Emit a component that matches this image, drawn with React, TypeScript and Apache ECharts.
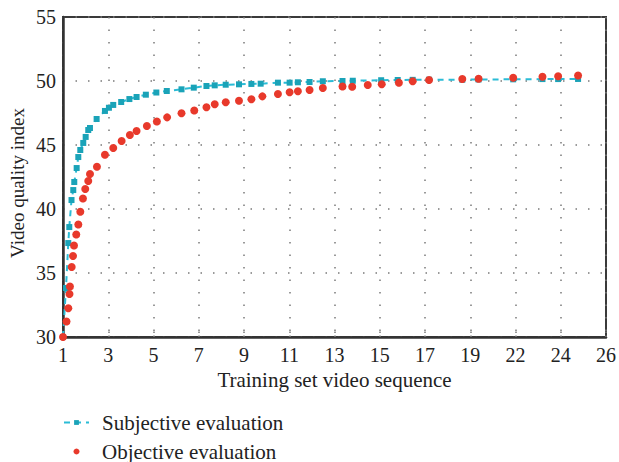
import React, { useEffect, useRef } from "react";
import * as echarts from "echarts";

// Tick labels of the x axis, one per equally spaced tick position (0..12)
const xTickLabels = ["1", "3", "5", "7", "9", "11", "13", "15", "17", "19", "22", "24", "26"];

// Subjective evaluation: x in tick-position units, y = quality index
const subjectiveX = [
  0, 0.066, 0.117, 0.139, 0.188, 0.227, 0.249, 0.302, 0.338, 0.382, 0.448, 0.501, 0.558, 0.596,
  0.743, 0.927, 1.015, 1.11, 1.286, 1.467, 1.626, 1.831, 2.063, 2.294, 2.619, 2.89, 3.17, 3.353,
  3.596, 3.889, 4.163, 4.368, 4.75, 5.008, 5.191, 5.449, 5.742, 6.177, 6.404, 7.031, 7.397,
  7.728, 8.09, 8.824, 9.184, 9.949, 10.596, 10.942, 11.383,
];
const subjectiveY = [
  30.0, 33.83, 37.34, 38.59, 40.7, 41.48, 42.11, 43.2, 44.06, 44.61, 45.16, 45.63, 46.17, 46.33,
  47.03, 47.66, 47.91, 48.13, 48.36, 48.59, 48.75, 48.93, 49.1, 49.22, 49.35, 49.48, 49.61, 49.66,
  49.71, 49.74, 49.77, 49.79, 49.87, 49.87, 49.9, 49.92, 49.98, 50.0, 50.02, 50.06, 50.08,
  50.09, 50.1, 50.1, 50.12, 50.13, 50.15, 50.15, 50.16,
];

// Objective evaluation
const objectiveX = [
  0, 0.077, 0.117, 0.143, 0.154, 0.192, 0.221, 0.243, 0.293, 0.338, 0.382, 0.441, 0.492, 0.558,
  0.596, 0.75, 0.927, 1.11, 1.295, 1.478, 1.626, 1.853, 2.074, 2.301, 2.619, 2.901, 3.17, 3.353,
  3.596, 3.889, 4.163, 4.406, 4.75, 5.008, 5.191, 5.449, 5.742, 6.177, 6.391, 6.735, 7.044,
  7.423, 7.728, 8.09, 8.824, 9.184, 9.949, 10.596, 10.942, 11.383,
];
const objectiveY = [
  30.0, 31.21, 32.24, 33.36, 33.95, 35.47, 36.33, 37.15, 38.01, 38.79, 39.79, 40.82, 41.56, 42.19,
  42.73, 43.3, 44.24, 44.77, 45.31, 45.78, 46.09, 46.48, 46.84, 47.16, 47.48, 47.7, 47.95, 48.18,
  48.34, 48.46, 48.57, 48.8, 48.98, 49.12, 49.2, 49.3, 49.45, 49.57, 49.55, 49.69, 49.74,
  49.87, 49.98, 50.08, 50.16, 50.17, 50.25, 50.33, 50.37, 50.43,
];

const Y_TITLE = "Video quality index";
const X_TITLE = "Training set video sequence";

const FONT = "'Liberation Serif', 'DejaVu Serif', serif";
const CYAN_LINE = "#2bbcd6";
const CYAN_MARK = "#1aa3b8";
const RED = "#e8392b";
const GRID_DOTS = "#7a7a7a";

export default function App() {
  const ref = useRef<HTMLDivElement>(null);

  useEffect(() => {
    if (!ref.current) return;
    const chart = echarts.init(ref.current, null, { renderer: "svg" });

    const subjective = subjectiveX.map((x, i) => [x, subjectiveY[i]]);
    const objective = objectiveX.map((x, i) => [x, objectiveY[i]]);

    const dotted = { color: GRID_DOTS, width: 1.5, type: [1.5, 11] as number[] };

    chart.setOption({
      animation: false,
      backgroundColor: "#ffffff",
      textStyle: { fontFamily: FONT },
      grid: {
        left: 63,
        right: 12,
        top: 17,
        bottom: 125,
        show: true,
        borderColor: "#3a3a3a",
        borderWidth: 2,
        backgroundColor: "transparent",
      },
      // Rotated y-axis title, placed left of the tick labels
      graphic: [
        {
          type: "text",
          x: 17,
          y: 183,
          rotation: Math.PI / 2,
          style: {
            text: Y_TITLE,
            fontFamily: FONT,
            fontSize: 19,
            fill: "#222",
            textAlign: "center",
            textVerticalAlign: "middle",
          },
        },
      ],
      legend: {
        orient: "vertical",
        left: 63,
        top: 412,
        height: 60,
        padding: 0,
        itemWidth: 25,
        itemHeight: 6,
        itemGap: 8,
        textStyle: {
          fontFamily: FONT,
          fontSize: 21,
          lineHeight: 18,
          color: "#222",
          padding: [0, 0, 0, 8],
        },
        data: ["Subjective evaluation", "Objective evaluation"],
      },
      xAxis: {
        type: "value",
        min: 0,
        max: 12,
        interval: 1,
        name: X_TITLE,
        nameLocation: "middle",
        nameGap: 32,
        nameTextStyle: { fontFamily: FONT, fontSize: 21, color: "#222" },
        axisLine: { lineStyle: { color: "#333", width: 2.5 } },
        axisTick: { show: true, inside: true, length: 8, lineStyle: { color: GRID_DOTS, width: 1.5, type: [1.5, 2.5] } },
        axisLabel: {
          margin: 8,
          fontFamily: FONT,
          fontSize: 20,
          color: "#222",
          formatter: (v: number) => xTickLabels[Math.round(v)] ?? "",
        },
        splitLine: { show: true, lineStyle: dotted },
      },
      yAxis: {
        type: "value",
        min: 30,
        max: 55,
        interval: 5,
        axisLine: { show: true, lineStyle: { color: "#333", width: 2.5 } },
        axisTick: { show: false },
        axisLabel: { margin: 7, fontFamily: FONT, fontSize: 20, color: "#222" },
        splitLine: { show: true, lineStyle: dotted },
      },
      series: [
        {
          name: "Subjective evaluation",
          type: "line",
          data: subjective,
          symbol: "rect",
          symbolSize: 6,
          showSymbol: true,
          itemStyle: { color: CYAN_MARK },
          lineStyle: { color: CYAN_LINE, width: 2, type: [6, 5] },
          z: 2,
        },
        {
          name: "Objective evaluation",
          type: "scatter",
          data: objective,
          symbol: "circle",
          symbolSize: 8,
          itemStyle: { color: RED, opacity: 1 },
          z: 3,
        },
      ],
    });

    return () => chart.dispose();
  }, []);

  return <div ref={ref} style={{ width: 619, height: 462, position: "absolute", left: 0, top: 0 }} />;
}
